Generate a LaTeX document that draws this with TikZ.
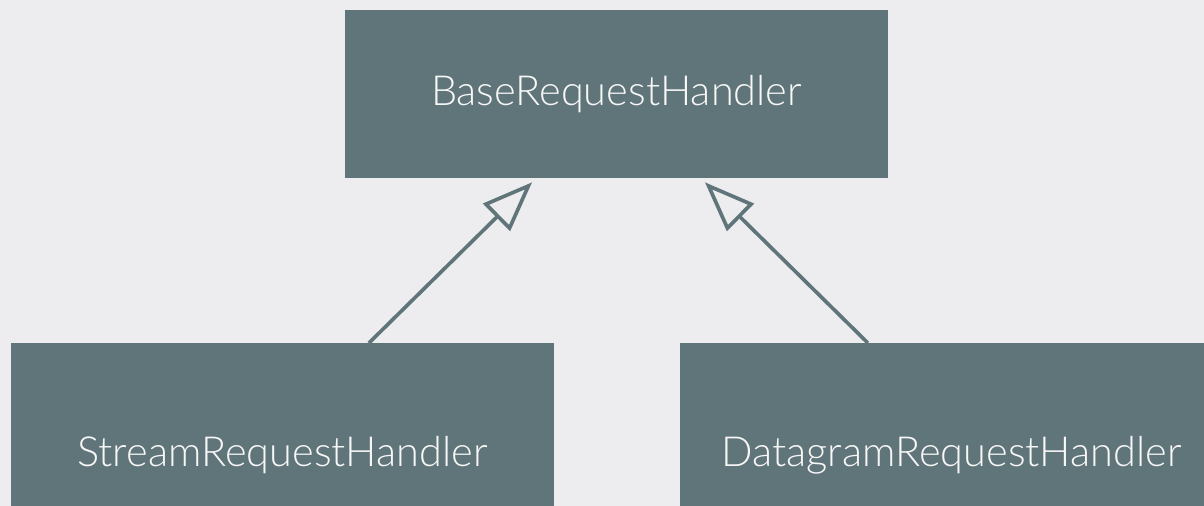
\documentclass[tikz,border=0pt]{standalone}
\usepackage{fontspec}
\setmainfont{Lato Light}
\usepackage{tikz}
\usetikzlibrary{arrows.meta}
\usetikzlibrary{positioning}
\definecolor{slideGrey}{HTML}{EDEDF0}
\definecolor{boxSlate}{HTML}{60757A}
\definecolor{boxText}{HTML}{F7F7F7}

\tikzset{
  classbox/.style={fill=boxSlate, text=boxText, inner sep=0pt,
    minimum width=13.575cm, minimum height=4.2cm,
    font=\fontsize{29.5}{35}\selectfont},
  inherit/.style={draw=boxSlate, line width=2.6pt,
    -{Triangle[open, length=1.25cm, width=0.95cm, line width=2.6pt]}}
}

\begin{document}
\begin{tikzpicture}[x=0.025cm, y=-0.025cm]
  \useasboundingbox (0,0) rectangle (1204,506);
  \fill[slideGrey] (0,0) rectangle (1204,506);

  %% classes
  \node[classbox] (base) at (616.5,94) {BaseRequestHandler};
  \node[classbox, minimum height=5.6cm, anchor=north] (stream) at (282.5,343) {StreamRequestHandler};
  \node[classbox, minimum height=5.6cm, anchor=north] (datagram) at (951.5,343) {DatagramRequestHandler};

  %% inheritance
  \draw[inherit] ([xshift=2.16cm]stream.north) -- ([xshift=-2.11cm,yshift=-0.1cm]base.south);
  \draw[inherit] ([xshift=-2.09cm]datagram.north) -- ([xshift=2.21cm,yshift=-0.1cm]base.south);
\end{tikzpicture}
\end{document}
